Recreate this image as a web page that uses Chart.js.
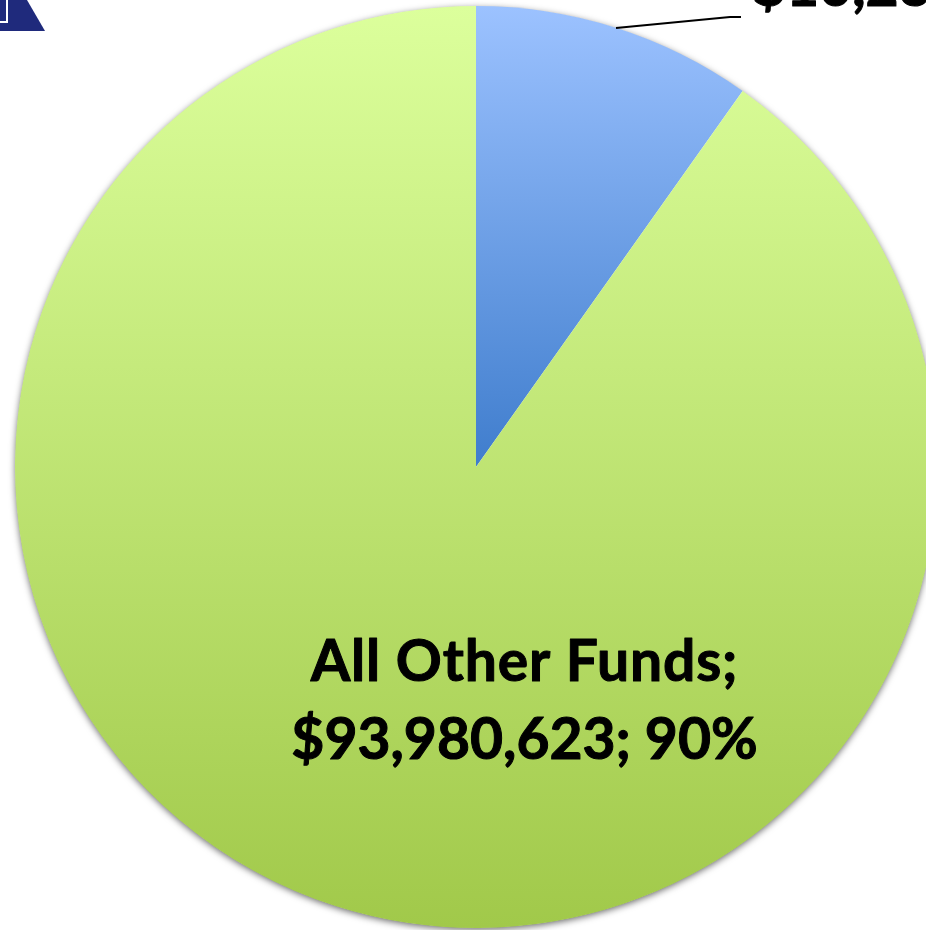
<!DOCTYPE html>
<html>
<head>
<meta charset="utf-8">
<style>
  html, body { margin: 0; padding: 0; background: #fff; width: 926px; height: 930px; overflow: hidden; }
  #wrap { position: absolute; left: 0; top: 0; width: 952px; height: 934px; }
  #logo { position: absolute; left: 0; top: 0; }
</style>
<script src="https://cdn.jsdelivr.net/npm/chart.js@4"></script>
</head>
<body>
<div id="wrap"><canvas id="pie"></canvas></div>
<svg id="logo" width="50" height="36">
  <polygon points="0,0 27,0 45,31 0,31" fill="#1f2a7c"/>
  <polyline points="7,0 7,22 0,22" fill="none" stroke="#fff" stroke-width="2"/>
</svg>
<script>
const categories = ["Blue Fund", "All Other Funds"];
const values = [10230000, 93980623];
const percents = ["10%", "90%"];
const valueLabels = ["$10,230,000", "$93,980,623"];
const topColors = ["#9cc2ff", "#dcff9c"];
const bottomColors = ["#3f7dcd", "#a1c94a"];

// vertical gradient over the height of each slice
function sliceGradient(c) {
  const area = c.chart.chartArea;
  if (!area) return topColors[c.dataIndex];
  const cy = (area.top + area.bottom) / 2;
  const y1 = c.dataIndex === 0 ? cy : area.bottom;
  const g = c.chart.ctx.createLinearGradient(0, area.top, 0, y1);
  g.addColorStop(0, topColors[c.dataIndex]);
  g.addColorStop(1, bottomColors[c.dataIndex]);
  return g;
}

function boldText(ctx, text, x, y, spacing) {
  ctx.letterSpacing = spacing + "px";
  ctx.fillText(text, x, y);
  ctx.strokeText(text, x, y);
}

const pieDecor = {
  id: "pieDecor",
  beforeDatasetsDraw(chart) {
    const arc = chart.getDatasetMeta(0).data[0];
    const ctx = chart.ctx;
    ctx.save();
    ctx.shadowColor = "rgba(0,0,0,0.6)";
    ctx.shadowBlur = 7;
    ctx.shadowOffsetY = 2;
    ctx.fillStyle = "#fff";
    ctx.beginPath();
    ctx.arc(arc.x, arc.y, arc.outerRadius - 0.5, 0, Math.PI * 2);
    ctx.fill();
    ctx.restore();
  },
  afterDatasetsDraw(chart) {
    const ctx = chart.ctx;
    ctx.save();
    ctx.fillStyle = "#000";
    ctx.strokeStyle = "#000";
    ctx.lineWidth = 1;
    ctx.lineJoin = "round";
    ctx.textAlign = "center";
    ctx.textBaseline = "alphabetic";
    ctx.font = "bold 57px Lato";
    boldText(ctx, categories[1] + ";", 524.5, 681, 0.85);
    boldText(ctx, valueLabels[1] + "; " + percents[1], 524.5, 759, 0);
    ctx.textAlign = "left";
    boldText(ctx, valueLabels[0], 753, 6, 0);
    ctx.lineWidth = 1.8;
    ctx.beginPath();
    ctx.moveTo(616, 28);
    ctx.lineTo(730, 17);
    ctx.lineTo(741, 17);
    ctx.stroke();
    ctx.restore();
  }
};

new Chart(document.getElementById("pie"), {
  type: "pie",
  data: {
    labels: categories,
    datasets: [{ data: values, backgroundColor: sliceGradient, borderWidth: 0 }]
  },
  options: {
    responsive: true,
    maintainAspectRatio: false,
    animation: false,
    layout: { padding: 6 },
    plugins: { legend: { display: false }, tooltip: { enabled: false } }
  },
  plugins: [pieDecor]
});
</script>
</body>
</html>
